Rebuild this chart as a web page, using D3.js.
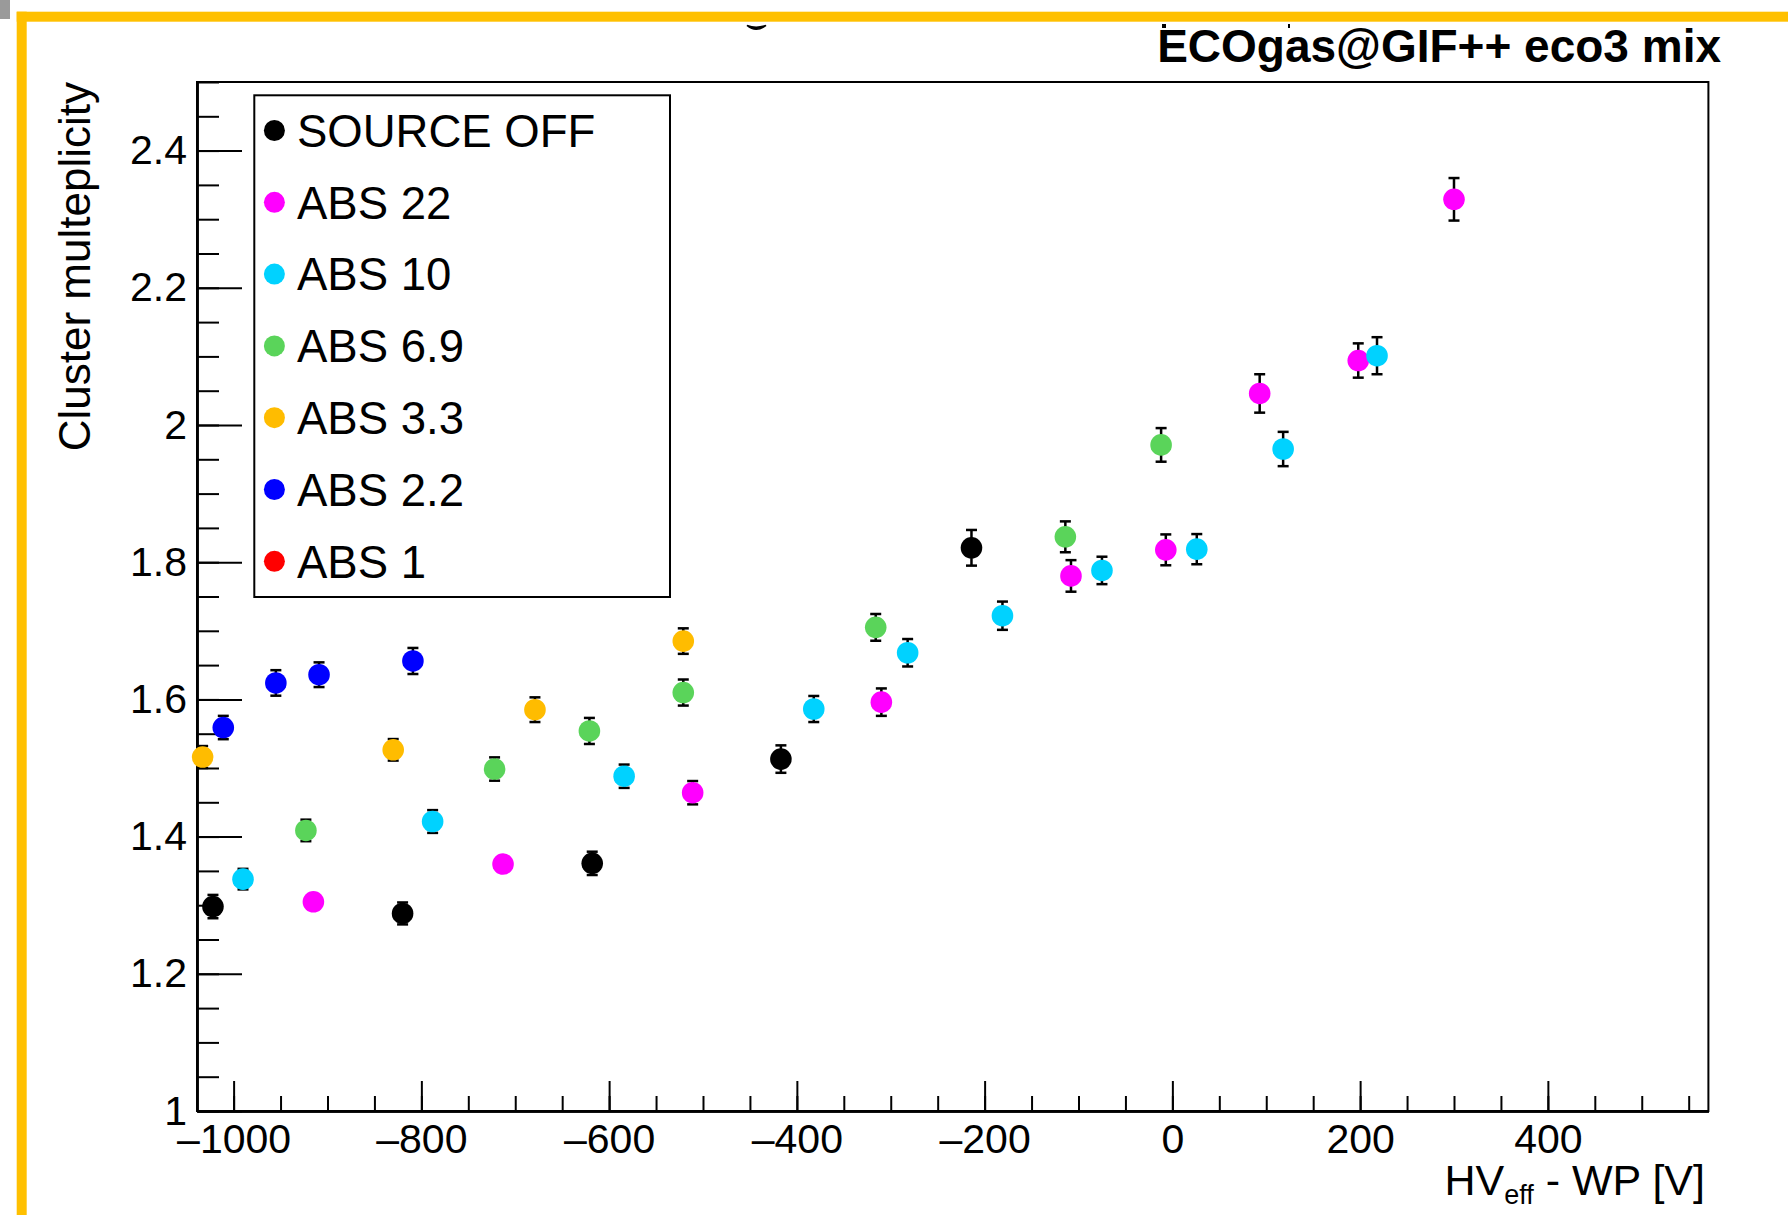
<!DOCTYPE html>
<html>
<head>
<meta charset="utf-8">
<script src="https://cdn.jsdelivr.net/npm/d3@7"></script>
<style>
  html, body { margin: 0; padding: 0; background: #ffffff; }
  svg { display: block; }
  text { font-family: "Liberation Sans", Arial, Helvetica, sans-serif; fill: #000; }
</style>
</head>
<body>
<svg id="chart" width="1788" height="1215"></svg>
<script>
// ---------------- data ----------------
const xTicks = [-1000, -800, -600, -400, -200, 0, 200, 400];
const xTickLabels = ["\u20131000", "\u2013800", "\u2013600", "\u2013400", "\u2013200", "0", "200", "400"];
const yTicks = [1, 1.2, 1.4, 1.6, 1.8, 2, 2.2, 2.4];
const yTickLabels = ["1", "1.2", "1.4", "1.6", "1.8", "2", "2.2", "2.4"];

const seriesNames = ["SOURCE OFF", "ABS 22", "ABS 10", "ABS 6.9", "ABS 3.3", "ABS 2.2", "ABS 1"];
const seriesColors = ["#000000", "#ff00ff", "#00d2ff", "#5ad45a", "#ffbc00", "#0000ff", "#ff0000"];

const sourceOffX   = [-1022, -820, -618, -417, -214];
const sourceOffY   = [1.298, 1.288, 1.361, 1.513, 1.821];
const sourceOffErr = [0.017, 0.016, 0.017, 0.020, 0.026];

const abs22X   = [-915, -713, -511, -310, -108, -7, 93, 198, 300];
const abs22Y   = [1.305, 1.360, 1.464, 1.596, 1.780, 1.818, 2.046, 2.094, 2.329];
const abs22Err = [0.012, 0.012, 0.017, 0.020, 0.023, 0.0225, 0.028, 0.025, 0.031];

const abs10X   = [-990, -788, -584, -382, -282, -181, -75, 26, 118, 218];
const abs10Y   = [1.338, 1.422, 1.488, 1.586, 1.668, 1.722, 1.788, 1.819, 1.965, 2.101];
const abs10Err = [0.015, 0.0166, 0.017, 0.019, 0.020, 0.0206, 0.020, 0.022, 0.025, 0.027];

const abs69X   = [-923, -722, -621, -521, -316, -114, -12];
const abs69Y   = [1.409, 1.4985, 1.554, 1.610, 1.705, 1.837, 1.971];
const abs69Err = [0.0157, 0.017, 0.019, 0.019, 0.0195, 0.0225, 0.0245];

const abs33X   = [-1033, -830, -679, -521];
const abs33Y   = [1.516, 1.5265, 1.585, 1.685];
const abs33Err = [0.016, 0.0157, 0.018, 0.0186];

const abs22bX   = [-1011, -955, -909, -809];
const abs22bY   = [1.559, 1.624, 1.636, 1.656];
const abs22bErr = [0.017, 0.0186, 0.018, 0.019];

const abs1X   = [];
const abs1Y   = [];
const abs1Err = [];

const seriesData = [
  [sourceOffX, sourceOffY, sourceOffErr],
  [abs22X, abs22Y, abs22Err],
  [abs10X, abs10Y, abs10Err],
  [abs69X, abs69Y, abs69Err],
  [abs33X, abs33Y, abs33Err],
  [abs22bX, abs22bY, abs22bErr],
  [abs1X, abs1Y, abs1Err]
];

// ---------------- layout ----------------
const svg = d3.select("#chart");
const L = 197, R = 1708.4, T = 82, B = 1111;
const x = d3.scaleLinear().domain([-1039, 571]).range([L, R]);
const y = d3.scaleLinear().domain([1, 2.5]).range([B, T]);

svg.append("rect").attr("x", 0).attr("y", 0).attr("width", 1788).attr("height", 1215).attr("fill", "#fff");

// decorations (slide remnants)
svg.append("rect").attr("x", 0).attr("y", 0).attr("width", 10).attr("height", 19).attr("fill", "#9a9a9a");
svg.append("rect").attr("x", 16.7).attr("y", 11.7).attr("width", 1788 - 16.7).attr("height", 10).attr("fill", "#ffc000");
svg.append("rect").attr("x", 16.7).attr("y", 11.7).attr("width", 10).attr("height", 1215 - 11.7).attr("fill", "#ffc000");
svg.append("path").attr("d", "M747,25.5 Q756,33 766,25.5 Q756,29 747,25.5 Z").attr("fill", "#000").attr("stroke", "#000").attr("stroke-width", 1.5);
svg.append("rect").attr("x", 1162).attr("y", 24).attr("width", 4).attr("height", 4).attr("fill", "#000");
svg.append("rect").attr("x", 1288).attr("y", 24).attr("width", 2).attr("height", 4).attr("fill", "#000");

// frame
svg.append("rect").attr("x", L).attr("y", T).attr("width", R - L).attr("height", B - T)
  .attr("fill", "none").attr("stroke", "#000").attr("stroke-width", 2);

// axes
const xMinor = d3.range(-1000, 571, 50);
const yMinor = d3.range(1, 2.5001, 0.05);

const gxMinor = svg.append("g").attr("transform", `translate(0,${B})`)
  .call(d3.axisBottom(x).tickValues(xMinor).tickSize(-15).tickSizeOuter(0).tickFormat(""));
const gx = svg.append("g").attr("transform", `translate(0,${B})`)
  .call(d3.axisBottom(x).tickValues(xTicks).tickSize(-30).tickSizeOuter(0).tickPadding(13)
    .tickFormat((d, i) => xTickLabels[i]));
const gyMinor = svg.append("g").attr("transform", `translate(${L},0)`)
  .call(d3.axisLeft(y).tickValues(yMinor).tickSize(-22).tickSizeOuter(0).tickFormat(""));
const gy = svg.append("g").attr("transform", `translate(${L},0)`)
  .call(d3.axisLeft(y).tickValues(yTicks).tickSize(-45).tickSizeOuter(0).tickPadding(10)
    .tickFormat((d, i) => yTickLabels[i]));

[gxMinor, gx, gyMinor, gy].forEach(g => {
  g.select(".domain").attr("stroke", "#000").attr("stroke-width", 2.5);
  g.selectAll(".tick line").attr("stroke", "#000").attr("stroke-width", 2);
  g.selectAll(".tick text").attr("font-size", 41).attr("fill", "#000")
    .style("font-family", "'Liberation Sans', Arial, Helvetica, sans-serif");
});

// axis titles
svg.append("text").attr("transform", `translate(90,${T}) rotate(-90)`)
  .attr("text-anchor", "end").attr("font-size", 44).text("Cluster multeplicity");

const xt = svg.append("text").attr("x", 1705).attr("y", 1195).attr("text-anchor", "end").attr("font-size", 43);
xt.append("tspan").text("HV");
xt.append("tspan").attr("font-size", 27).attr("dy", 9).text("eff");
xt.append("tspan").attr("dy", -9).text(" - WP [V]");

// title
svg.append("text").attr("x", 1721).attr("y", 62).attr("text-anchor", "end")
  .attr("font-size", 46).attr("font-weight", "bold").text("ECOgas@GIF++ eco3 mix");

// data points
const r = 10.8, cap = 5.5;
seriesData.forEach((s, si) => {
  const [xs, ys, es] = s;
  const pts = xs.map((xv, i) => ({ x: xv, y: ys[i], e: es[i] }));
  const g = svg.append("g");
  pts.forEach(p => {
    const cx = x(p.x), cy = y(p.y);
    const yTop = y(p.y + p.e), yBot = y(p.y - p.e);
    if (cy - yTop >= 10) {
      g.append("line").attr("x1", cx).attr("x2", cx).attr("y1", yTop).attr("y2", yBot)
        .attr("stroke", "#000").attr("stroke-width", 2.5);
      g.append("line").attr("x1", cx - cap).attr("x2", cx + cap).attr("y1", yTop).attr("y2", yTop)
        .attr("stroke", "#000").attr("stroke-width", 2.5);
      g.append("line").attr("x1", cx - cap).attr("x2", cx + cap).attr("y1", yBot).attr("y2", yBot)
        .attr("stroke", "#000").attr("stroke-width", 2.5);
    }
  });
  g.selectAll("circle").data(pts).enter().append("circle")
    .attr("cx", d => x(d.x)).attr("cy", d => y(d.y)).attr("r", r)
    .attr("fill", seriesColors[si]);
});

// legend
const lg = svg.append("g");
lg.append("rect").attr("x", 254.3).attr("y", 95.3).attr("width", 670 - 254.3).attr("height", 597 - 95.3)
  .attr("fill", "#fff").attr("stroke", "#000").attr("stroke-width", 2);
seriesNames.forEach((name, i) => {
  const cy = 130.5 + i * 71.8;
  lg.append("circle").attr("cx", 274.4).attr("cy", cy).attr("r", 10.5).attr("fill", seriesColors[i]);
  lg.append("text").attr("x", 297).attr("y", cy + 16.3).attr("font-size", 45.5).text(name);
});
</script>
</body>
</html>
